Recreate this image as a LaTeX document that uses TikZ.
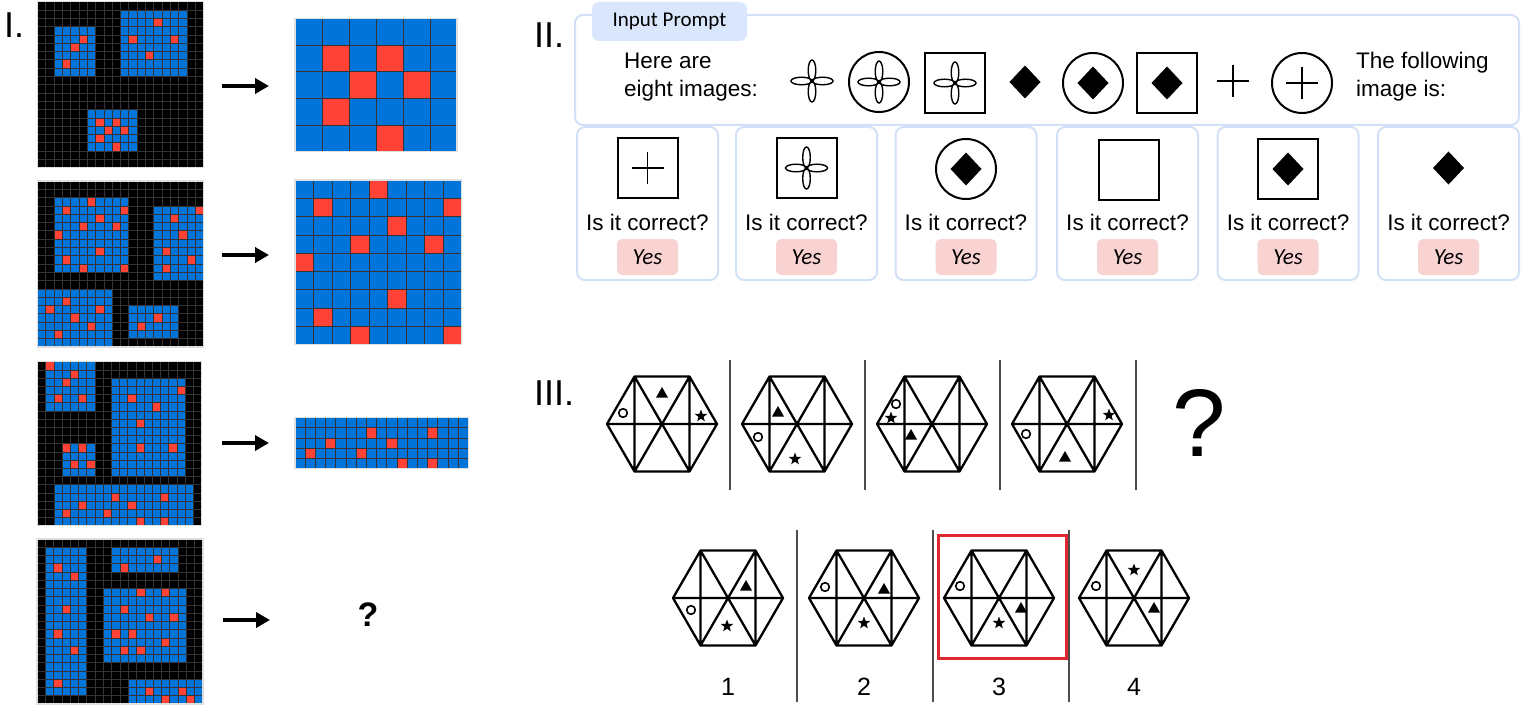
\documentclass[tikz,border=0pt]{standalone}
\usepackage{fontspec}
\setmainfont{Liberation Sans}
\newfontfamily\calfont{Carlito}
\usetikzlibrary{arrows.meta,positioning}

\definecolor{arcblue}{HTML}{0074D9}
\definecolor{arcred}{HTML}{FF4136}
\definecolor{panelline}{HTML}{D3E1F8}
\definecolor{tabfill}{HTML}{DAE6FB}
\definecolor{yesfill}{HTML}{F8D3D2}
\definecolor{pickred}{HTML}{E0262E}

\tikzset{
  cellline/.style={draw=gray!40!black,line width=0.7pt},
  frame/.style={draw=gray!25,line width=1.2pt},
  bigarrow/.style={line width=4.5pt,-{Triangle[length=14pt,width=15pt]}},
  romannum/.style={font=\fontsize{36}{40}\selectfont,anchor=base west,inner sep=0},
  prompttext/.style={font=\fontsize{22.5}{28}\selectfont,align=left,anchor=west,inner sep=0},
  asktext/.style={font=\fontsize{22.5}{28}\selectfont,anchor=base,inner sep=0},
  promptbox/.style={draw=panelline,line width=2pt,rounded corners=8pt,minimum width=944pt,minimum height=110pt},
  tabbox/.style={fill=tabfill,rounded corners=7pt,minimum width=155pt,minimum height=39pt,font=\calfont\fontsize{21}{24}\selectfont},
  answerbox/.style={draw=panelline,line width=2pt,rounded corners=8pt,minimum width=141pt,minimum height=153pt},
  yesbox/.style={fill=yesfill,rounded corners=5pt,minimum width=61pt,minimum height=36pt,font=\calfont\itshape\fontsize{23}{26}\selectfont},
  thinline/.style={line width=1.4pt},
  frameline/.style={line width=2pt},
  hexline/.style={line width=2.3pt,line join=round,line cap=round},
  sepline/.style={draw=gray!60!black,line width=1.5pt},
  petals/.pic={\draw[thinline] (-10.5,0) ellipse (10.5 and 3.8) (10.5,0) ellipse (10.5 and 3.8)
      (0,-10.5) ellipse (3.8 and 10.5) (0,10.5) ellipse (3.8 and 10.5);},
  rhomb/.pic={\fill (0,-16.5) -- (15.5,0) -- (0,16.5) -- (-15.5,0) -- cycle;},
  cross/.pic={\draw[thinline] (-16,0) -- (16,0) (0,-16) -- (0,16);},
  ringframe/.pic={\draw[frameline] (0,0) circle (30);},
  boxframe/.pic={\draw[frameline] (-30,-30) rectangle (30,30);},
  hexa/.pic={\draw[hexline] (-55,0) -- (-27.5,-47.5) -- (27.5,-47.5) -- (55,0) -- (27.5,47.5) -- (-27.5,47.5) -- cycle
      (-55,0) -- (55,0) (-27.5,-47.5) -- (27.5,47.5) (27.5,-47.5) -- (-27.5,47.5)
      (-27.5,-47.5) -- (-27.5,47.5) (27.5,-47.5) -- (27.5,47.5);},
  ring/.pic={\draw[line width=1.6pt] (0,0) circle (4.3);},
  tri/.pic={\fill (0,-6) -- (6,4.5) -- (-6,4.5) -- cycle;},
  starmark/.pic={\fill (-90:6.5) \foreach \a in {1,...,9}{ -- ({-90+36*\a}:{ifthenelse(mod(\a,2)==1,2.7,6.5)}) } -- cycle;}
}

% origin, cell width, cell height, columns, rows, blue rectangles, red cells
\newcommand{\arcpanel}[7]{%
  \begin{scope}[shift={(#1)},x=#2pt,y=-#3pt]
    \fill[black] (0,0) rectangle (#4,#5);
    \foreach \c/\r/\w/\h in {#6} \fill[arcblue] (\c,\r) rectangle ++(\w,\h);
    \foreach \c/\r in {#7} \fill[arcred] (\c,\r) rectangle ++(1,1);
    \foreach \k in {0,...,#4} \draw[cellline] (\k,0) -- (\k,#5);
    \foreach \k in {0,...,#5} \draw[cellline] (0,\k) -- (#4,\k);
    \draw[frame] (0,0) rectangle (#4,#5);
  \end{scope}}

\begin{document}
\begin{tikzpicture}[x=1pt,y=-1pt]
\path[use as bounding box,fill=white] (0,0) rectangle (1523,706);

% I.
\node[romannum] (lab1) at (4,38) {I.};
\arcpanel{37.5,1.7}{8.3}{8.3}{20}{20}{2/3/5/6,10/1/8/8,6/13/6/5}
  {5/4,4/5,3/7,14/2,11/4,16/4,13/6,7/14,9/14,8/15,10/15,7/16,9/17}
\arcpanel{295,18.3}{27}{26.7}{6}{5}{0/0/6/5}{1/1,3/1,2/2,4/2,1/3,3/4}
\arcpanel{37.5,181}{8.3}{8.3}{20}{20}{2/2/9/9,14/3/6/9,0/13/9/7,11/15/6/4}
  {6/2,3/3,10/3,7/4,5/5,9/5,2/6,7/8,3/9,5/10,10/10,19/3,16/4,17/6,15/8,18/9,15/10,
   3/14,1/15,7/15,4/16,6/17,2/18,14/16,12/17}
\arcpanel{295,180}{18.5}{18.3}{9}{9}{0/0/9/9}{4/0,1/1,8/1,5/2,3/3,7/3,0/4,5/6,1/7,3/8,8/8}
\arcpanel{37.5,361.7}{8.2}{8.2}{20}{20}{1/0/6/6,9/2/9/12,3/10/4/4,2/15/17/5}
  {1/0,4/1,3/2,2/4,5/4,17/3,11/4,14/5,12/7,12/10,16/10,3/10,5/10,4/12,6/12,
   9/16,15/16,5/17,11/17,3/18,8/18,12/19,15/19}
\arcpanel{295,417.3}{10.2}{10.3}{17}{5}{0/0/17/5}{7/1,13/1,3/2,9/2,1/3,6/3,10/4,13/4}
\arcpanel{37,539}{8.3}{8.25}{20}{20}{1/1/5/18,9/1/8/3,8/6/10/9,11/17/9/3}
  {2/3,4/4,3/8,2/11,4/13,2/17,14/2,10/3,12/6,15/6,10/8,13/9,16/9,9/11,11/11,15/12,
   10/13,12/13,13/18,17/18,15/19,18/19}
\node[font=\bfseries\fontsize{34}{38}\selectfont] (ans4) at (368,615) {?};

\coordinate (a1s) at (222,86);  \coordinate (a1e) at (269,86);
\coordinate (a2s) at (222,255); \coordinate (a2e) at (269,255);
\coordinate (a3s) at (222,443); \coordinate (a3e) at (269,443);
\coordinate (a4s) at (223,620); \coordinate (a4e) at (270,620);
\foreach \n in {1,...,4} \draw[bigarrow] (a\n s) -- (a\n e);

% II.
\node[romannum] (lab2) at (534,48) {II.};
\node[promptbox] (prompt) at (1047,70) {};
\node[tabbox] (tab) at (669.5,21.5) {Input Prompt};
\node[prompttext] (here) at (624,77) {Here are\\eight images:};
\node[prompttext] (follow) at (1356,77) {The following\\image is:};

\pic at (812,81) {petals};
\pic at (879,82) {ringframe}; \pic at (879,82) {petals};
\pic at (955,83) {boxframe};  \pic at (955,83) {petals};
\pic at (1025,82) {rhomb};
\pic at (1093,83) {ringframe}; \pic at (1093,83) {rhomb};
\pic at (1167,83) {boxframe};  \pic at (1167,83) {rhomb};
\pic at (1233,81) {cross};
\pic at (1302,83) {ringframe}; \pic at (1302,83) {cross};

\foreach \x [count=\i] in {647.5,806.5,966,1127.5,1288,1448.5} {
  \node[answerbox] (box\i) at (\x,203.5) {};
  \node[asktext] (ask\i) at (\x,230) {Is it correct?};
  \node[yesbox] (yes\i) at (\x,257) {Yes};
}
\pic at (647.5,168) {boxframe}; \pic at (647.5,168) {cross};
\pic at (806.5,168) {boxframe}; \pic at (806.5,168) {petals};
\pic at (966,169) {ringframe};  \pic at (966,169) {rhomb};
\pic at (1129,170) {boxframe};
\pic at (1288,169) {boxframe};  \pic at (1288,169) {rhomb};
\pic at (1448.5,168) {rhomb};

% III.
\node[romannum] (lab3) at (534,405) {III.};
\begin{scope}[shift={(662,424)}]
  \pic {hexa}; \pic at (0,-31) {tri}; \pic at (-39,-11) {ring}; \pic at (39,-8) {starmark};
\end{scope}
\begin{scope}[shift={(797,424)}]
  \pic {hexa}; \pic at (-19,-12) {tri}; \pic at (-39,13) {ring}; \pic at (-2,35) {starmark};
\end{scope}
\begin{scope}[shift={(932,424)}]
  \pic {hexa}; \pic at (-21,11) {tri}; \pic at (-36,-20) {ring}; \pic at (-41,-6) {starmark};
\end{scope}
\begin{scope}[shift={(1067,424)}]
  \pic {hexa}; \pic at (-2,33) {tri}; \pic at (-41,10) {ring}; \pic at (42,-9) {starmark};
\end{scope}
\node[font=\fontsize{96}{100}\selectfont] (qmark) at (1199,423) {?};
\foreach \x [count=\i] in {730,865,1000,1136} {
  \coordinate (st\i) at (\x,360); \coordinate (sb\i) at (\x,490);
  \draw[sepline] (st\i) -- (sb\i);
}

\begin{scope}[shift={(728,598)}]
  \pic {hexa}; \pic at (18,-12) {tri}; \pic at (-37,12) {ring}; \pic at (-1,28) {starmark};
\end{scope}
\begin{scope}[shift={(864,598)}]
  \pic {hexa}; \pic at (20,-9) {tri}; \pic at (-39,-11) {ring}; \pic at (0,25) {starmark};
\end{scope}
\begin{scope}[shift={(999,598)}]
  \pic {hexa}; \pic at (22,10) {tri}; \pic at (-39,-12) {ring}; \pic at (0,25) {starmark};
\end{scope}
\begin{scope}[shift={(1134,598)}]
  \pic {hexa}; \pic at (20,10) {tri}; \pic at (-38,-12) {ring}; \pic at (0,-28) {starmark};
\end{scope}
\foreach \x [count=\i] in {728,864,999,1134}
  \node[font=\fontsize{25}{28}\selectfont] (opt\i) at (\x,687) {\i};
\foreach \x [count=\i] in {797,933,1069} {
  \coordinate (bt\i) at (\x,530); \coordinate (bb\i) at (\x,702);
  \draw[sepline] (bt\i) -- (bb\i);
}
\draw[pickred,line width=3pt] (938,535) rectangle (1066,658);
\end{tikzpicture}
\end{document}
